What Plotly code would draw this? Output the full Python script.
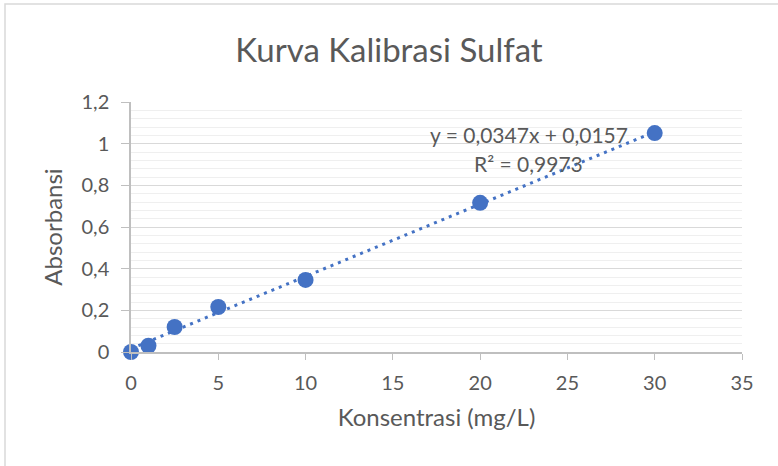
import plotly.graph_objects as go

# Calibration data: sulfate concentration vs. absorbance
konsentrasi = [0, 1, 2.5, 5, 10, 20, 30]
absorbansi = [0, 0.03, 0.12, 0.216, 0.346, 0.716, 1.051]

# Linear trendline coefficients
slope = 0.0347
intercept = 0.0157
r_squared = 0.9973

x_ticks = [0, 5, 10, 15, 20, 25, 30, 35]
y_ticks = [0, 0.2, 0.4, 0.6, 0.8, 1.0, 1.2]

BLUE = "#4472C4"
TEXT = "#595959"
FONT = "Lato, 'Open Sans', sans-serif"


def fmt(v, digits):
    return f"{v:.{digits}f}".replace(".", ",")


trend_x = [min(konsentrasi), max(konsentrasi)]
trend_y = [slope * x + intercept for x in trend_x]

fig = go.Figure()
fig.add_trace(go.Scatter(
    x=trend_x, y=trend_y, mode="lines",
    line=dict(color=BLUE, width=3, dash="3px,5px"),
    hoverinfo="skip", showlegend=False, cliponaxis=False,
))
fig.add_trace(go.Scatter(
    x=konsentrasi, y=absorbansi, mode="markers",
    marker=dict(color=BLUE, size=16),
    showlegend=False, cliponaxis=False,
))

fig.add_annotation(
    x=0.651, y=0.872, xref="paper", yref="paper",
    xanchor="center", yanchor="middle",
    text=f"y = {fmt(slope, 4)}x + {fmt(intercept, 4)}",
    showarrow=False, font=dict(family=FONT, size=21, color=TEXT),
)
fig.add_annotation(
    x=0.651, y=0.756, xref="paper", yref="paper",
    xanchor="center", yanchor="middle",
    text=f"R² = {fmt(r_squared, 4)}",
    showarrow=False, font=dict(family=FONT, size=21, color=TEXT),
)

# Chart-area border
fig.add_shape(
    type="rect", xref="paper", yref="paper",
    x0=-126 / 611, x1=1.2, y0=-0.6, y1=1 + 98 / 250,
    line=dict(color="#d9d9d9", width=1.5), fillcolor="rgba(0,0,0,0)",
    layer="below",
)

fig.update_layout(
    width=778, height=466,
    margin=dict(l=131, r=36, t=102, b=114),
    paper_bgcolor="white", plot_bgcolor="white",
    separators=", ",
    font=dict(family=FONT, color=TEXT),
    title=dict(
        text="Kurva Kalibrasi Sulfat", x=0.5, xanchor="center",
        y=1 - 50 / 466, yanchor="middle",
        font=dict(family=FONT, size=33, color=TEXT),
    ),
    xaxis=dict(
        range=[0, 35], tickvals=x_ticks,
        showgrid=False, zeroline=False,
        showline=True, linecolor="#bfbfbf", linewidth=1.5,
        ticks="outside", ticklen=6, tickcolor="#bfbfbf",
        ticklabelstandoff=6,
        tickfont=dict(family=FONT, size=20, color=TEXT),
        title=dict(text="Konsentrasi (mg/L)", standoff=16,
                   font=dict(family=FONT, size=24, color=TEXT)),
    ),
    yaxis=dict(
        range=[0, 1.2], tickvals=y_ticks,
        showgrid=True, gridcolor="#d9d9d9", gridwidth=1.2,
        zeroline=False,
        showline=True, linecolor="#bfbfbf", linewidth=1.5,
        ticks="outside", ticklen=8, tickcolor="#bfbfbf",
        ticklabelstandoff=8,
        tickfont=dict(family=FONT, size=20, color=TEXT),
        minor=dict(dtick=0.04, showgrid=True, gridcolor="#efefef",
                   gridwidth=1.2, ticks=""),
        title=dict(text="Absorbansi", standoff=12,
                   font=dict(family=FONT, size=24, color=TEXT)),
    ),
)

fig.write_html("out.html")
